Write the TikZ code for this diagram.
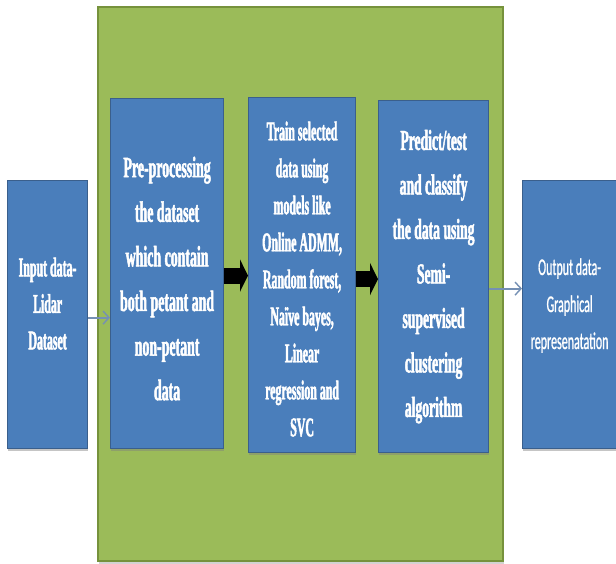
\documentclass[tikz,border=0pt]{standalone}
\usepackage{fontspec}
\newfontfamily\boxfontA{Liberation Serif Bold}[FakeStretch=0.47, FakeBold=1.6]
\newfontfamily\boxfontB{Liberation Serif Bold}[FakeStretch=0.44, FakeBold=1.6]
\newfontfamily\outfont{Carlito}[FakeStretch=0.5, FakeBold=0.8]
\usetikzlibrary{arrows.meta,shadows}
\definecolor{boxblue}{HTML}{4A7EBB}
\definecolor{boxedge}{HTML}{3A5F8C}
\definecolor{grn}{HTML}{9BBB59}
\definecolor{grnedge}{HTML}{76923C}
\definecolor{thinarr}{HTML}{7590B4}
\tikzset{
  bluebox/.style={draw=boxedge, line width=1.2pt, fill=boxblue, anchor=north west,
    inner sep=0pt, drop shadow={shadow xshift=0.8pt, shadow yshift=-2pt, opacity=0.45}},
  boxtext/.style={align=center, text=white, inner sep=0pt},
  greenbox/.style={draw=grnedge, line width=1.5pt, fill=grn, anchor=north west,
    inner sep=0pt, drop shadow={shadow xshift=0.8pt, shadow yshift=-3pt, opacity=0.35}},
  thinarrow/.style={draw=thinarr, line width=1.8pt, -{Straight Barb[length=6pt,width=13pt,line width=1.4pt]}},
  blockarrow/.style={draw=black, line width=16pt, -{Triangle[length=8pt,width=32pt]}},
}
\begin{document}
\begin{tikzpicture}[x=1pt,y=-1pt]
\useasboundingbox (0,0) rectangle (616,563);
\fill[white] (0,0) rectangle (616,563);
\node[greenbox, minimum width=405pt, minimum height=554pt] (g) at (97,6) {};
\node[bluebox, minimum width=80pt, minimum height=268pt] (in) at (7,180) {};
\node[bluebox, minimum width=113pt, minimum height=350pt] (b1) at (110,98) {};
\node[bluebox, minimum width=107pt, minimum height=355pt] (b2) at (248,97) {};
\node[bluebox, minimum width=110pt, minimum height=352pt] (b3) at (378,100) {};
\node[bluebox, minimum width=94pt, minimum height=268pt] (out) at (522,180) {};
\node[boxtext, font={\boxfontB\fontsize{27}{36.5}\selectfont}] (tin) at ([yshift=11pt]in.center)
  {Input data-\\Lidar\\Dataset};
\node[boxtext, font={\boxfontA\fontsize{29.5}{44.6}\selectfont}] (t1) at ([yshift=-5pt]b1.center)
  {Pre-processing\\the dataset\\which contain\\both petant and\\non-petant\\data};
\node[boxtext, font={\boxfontB\fontsize{27}{37}\selectfont}] (t2) at ([yshift=-4pt]b2.center)
  {Train selected\\data using\\models like\\Online ADMM,\\Random forest,\\Na\"ive bayes,\\Linear\\regression and\\SVC};
\node[boxtext, font={\boxfontA\fontsize{29}{44.5}\selectfont}] (t3) at (b3.center)
  {Predict/test\\and classify\\the data using\\Semi-\\supervised\\clustering\\algorithm};
\node[boxtext, font={\outfont\fontsize{24}{37}\selectfont}] (tout) at ([yshift=9pt]out.center)
  {Output data-\\Graphical\\represenatation};
\draw[thinarrow] ([yshift=-3pt]in.east) -- ([yshift=-3pt]in.east -| b1.west);
\draw[blockarrow] ([yshift=-2pt]b1.east) -- ([yshift=-2pt]b1.east -| b2.west);
\draw[blockarrow] ([yshift=-4pt]b2.east) -- ([yshift=-4pt]b2.east -| b3.west);
\draw[thinarrow] ([yshift=-12pt]b3.east) -- ([yshift=-12pt]b3.east -| out.west);
\end{tikzpicture}
\end{document}
